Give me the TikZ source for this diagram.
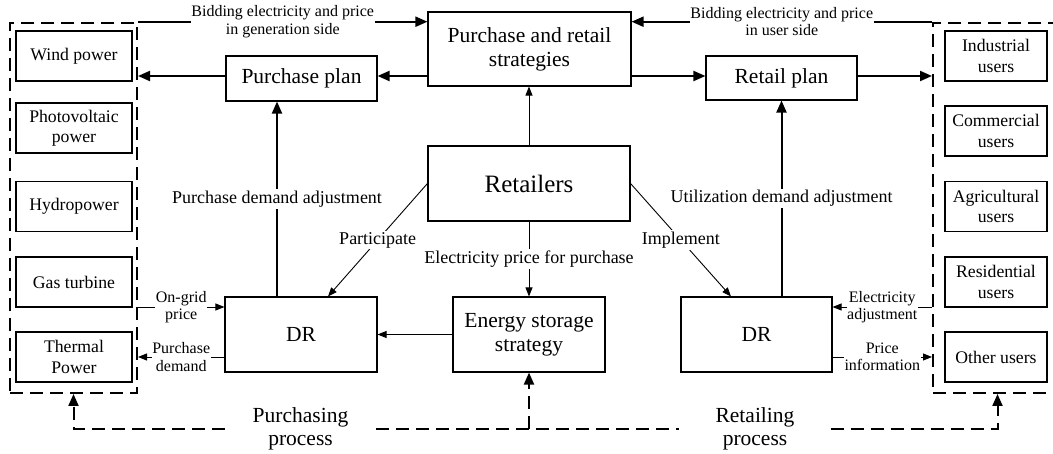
\documentclass[tikz,border=0pt]{standalone}
\usepackage{fontspec}
\setmainfont{Liberation Serif}
\usetikzlibrary{arrows.meta,calc}

\begin{document}
\begin{tikzpicture}[x=1pt,y=-1pt,
  box/.style={draw, line width=1.1pt, align=center, inner sep=0pt},
  mainbox/.style={box, font=\fontsize{21.5}{24}\selectfont},
  sidebox/.style={box, minimum height=50, font=\fontsize{17.7}{20.5}\selectfont},
  srcbox/.style={sidebox, minimum width=116},
  usrbox/.style={sidebox, minimum width=102},
  groupbox/.style={draw, line width=2pt, dash pattern=on 13pt off 7pt, inner sep=0pt},
  thickarr/.style={line width=2pt, -{Triangle[length=12pt,width=10pt]}},
  thinarr/.style={line width=0.9pt, -{Triangle[length=9pt,width=7pt]}},
  dasharr/.style={line width=2pt, dash pattern=on 13pt off 7pt, -{Triangle[length=12pt,width=10pt]}},
  dashline/.style={line width=2pt, dash pattern=on 13pt off 7pt},
  lbl/.style={fill=white, inner sep=1.5pt, align=center, font=\fontsize{18}{20}\selectfont},
  small/.style={fill=white, inner sep=0.5pt, align=center, font=\fontsize{16}{17.5}\selectfont},
  proc/.style={minimum width=151, inner sep=0pt, align=center, font=\fontsize{21.5}{23.5}\selectfont}
]
\useasboundingbox (0,0) rectangle (1053,454);

% generation side and user side groups
\node[groupbox, minimum width=127, minimum height=370.3] (genL) at (73.5,207.85) {};
\node[groupbox, minimum width=129, minimum height=370.3] (genR) at (997.5,207.85) {};

\node[srcbox] (wind)  at (74,56)    {Wind power};
\node[srcbox] (pv)    at (74,128)   {Photovoltaic\\power};
\node[srcbox] (hydro) at (74,206.5) {Hydropower};
\node[srcbox] (gas)   at (74,282)   {Gas turbine};
\node[srcbox] (therm) at (74,357)   {Thermal\\Power};

\node[usrbox] (ind) at (996,56)    {Industrial\\users};
\node[usrbox] (com) at (996,131)   {Commercial\\users};
\node[usrbox] (agr) at (996,206.5) {Agricultural\\users};
\node[usrbox] (res) at (996,282)   {Residential\\users};
\node[usrbox] (oth) at (996,357)   {Other users};

% central blocks
\node[mainbox, minimum width=203, minimum height=74] (strat) at (529.5,49) {Purchase and retail\\strategies};
\node[mainbox, minimum width=151, minimum height=45] (pplan) at (301.5,78.5) {Purchase plan};
\node[mainbox, minimum width=151, minimum height=44] (rplan) at (781.5,78) {Retail plan};
\node[box, minimum width=202, minimum height=75, font=\fontsize{25}{28}\selectfont] (ret) at (529,183.5) {Retailers};
\node[mainbox, minimum width=152, minimum height=75] (drL) at (301,334.5) {DR};
\node[mainbox, minimum width=152, minimum height=75] (ess) at (529,334.5) {Energy storage\\strategy};
\node[mainbox, minimum width=151, minimum height=75] (drR) at (756.5,334.5) {DR};

\node[proc] (procL) at (300.5,429) {Purchasing\\process};
\node[proc] (procR) at (755,429) {Retailing\\process};

% bidding flows
\draw[thickarr] (genL.north east) -- (strat.west |- genL.north east)
  node[small, midway] {Bidding electricity and price\\in generation side};
\draw[thickarr] (genR.north west) -- (strat.east |- genR.north west)
  node[small, midway] {Bidding electricity and price\\in user side};

% plans
\coordinate (sL) at ([yshift=-27pt]strat.west);
\coordinate (sR) at ([yshift=-27pt]strat.east);
\draw[thickarr] (sL) -- (sL -| pplan.east);
\draw[thickarr] (pplan.west |- sL) -- (genL.east |- sL);
\draw[thickarr] (sR) -- (sR -| rplan.west);
\draw[thickarr] (rplan.east |- sR) -- (genR.west |- sR);

% demand adjustment
\coordinate (dL) at ([xshift=-24pt]drL.north);
\draw[thickarr] (dL) -- (dL |- pplan.south)
  node[lbl, midway] {Purchase demand adjustment};
\draw[thickarr] (rplan.south |- drR.north) -- (rplan.south)
  node[lbl, midway] {Utilization demand adjustment};

% retailer links
\draw[thinarr] (ret.north) -- (ret.north |- strat.south);
\draw[thinarr] (ret.south) -- (ret.south |- ess.north)
  node[lbl, midway] {Electricity price for purchase};
\draw[thinarr] (ret.west) -- ([xshift=27pt]drL.north)
  node[lbl, midway] {Participate};
\draw[thinarr] (ret.east) -- ([xshift=-25.5pt]drR.north)
  node[lbl, midway] {Implement};
\draw[thinarr] (ess.west) -- (drL.east);

% exchanges with generation and users
\coordinate (og) at ([yshift=27.5pt]drL.west);
\coordinate (pd) at ([yshift=-22.5pt]drL.west);
\draw[thinarr] (genL.east |- og) -- (og) node[small, midway] {On-grid\\price};
\draw[thinarr] (pd) -- (genL.east |- pd) node[small, midway] {Purchase\\demand};
\coordinate (ea) at ([yshift=27.5pt]drR.east);
\coordinate (pi) at ([yshift=-22.5pt]drR.east);
\draw[thinarr] (genR.west |- ea) -- (ea) node[small, midway] {Electricity\\adjustment};
\draw[thinarr] (pi) -- (genR.west |- pi) node[small, midway] {Price\\information};

% process feedback
\draw[dasharr] (procL.west) -| (genL.south);
\draw[dashline] (procL.east) -- (procR.west);
\draw[dasharr] (ess.south |- procL.east) -- (ess.south);
\draw[dasharr] (procR.east) -| (genR.south);
\end{tikzpicture}
\end{document}
